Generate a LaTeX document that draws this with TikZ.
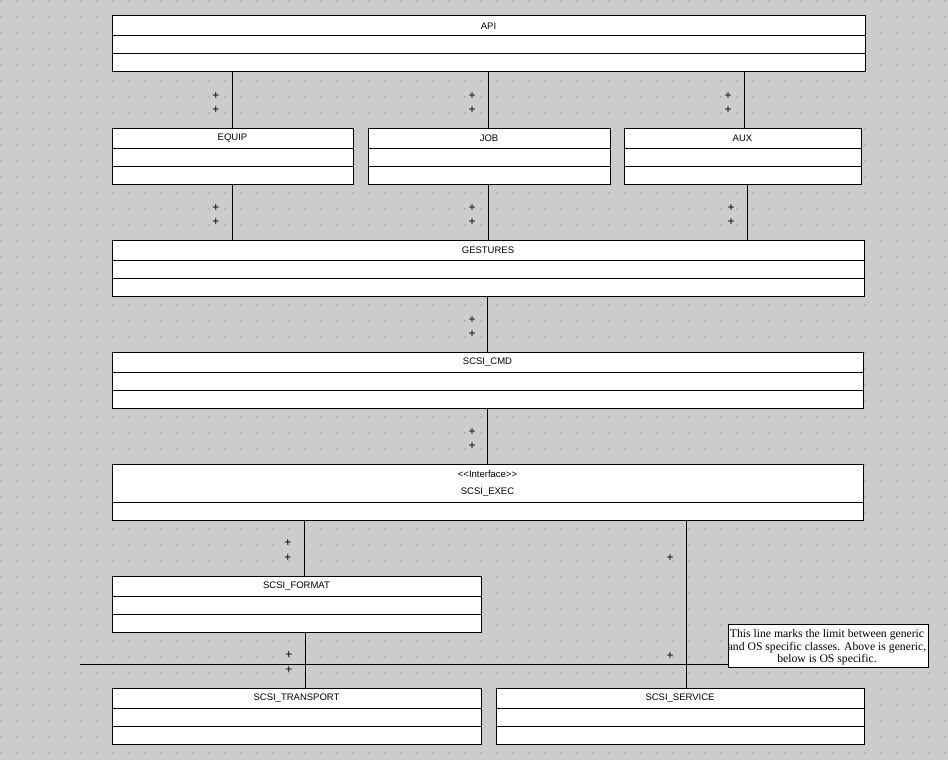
\documentclass[tikz,border=0pt]{standalone}
\usepackage{fontspec}
\setmainfont{Liberation Sans}
\newfontfamily\notefont{Liberation Serif}
\usetikzlibrary{calc}
\definecolor{canvas}{HTML}{CCCCCC}
\definecolor{griddot}{HTML}{B6B6B6}

% A class box: name, left x, right x, top y, label
\newcommand\umlclass[5]{%
  \node[classbox, minimum width={#3-#2}, anchor=north west] (#1) at (#2,#4) {};
  \draw[edge] ([yshift=-20pt]#1.north west) -- ([yshift=-20pt]#1.north east);
  \draw[edge] ([yshift=-38pt]#1.north west) -- ([yshift=-38pt]#1.north east);
  \node[classname] (#1-name) at ([yshift=-10pt]#1.north) {#5};
}
% An interface box: stereotype and name share the upper compartment
\newcommand\umliface[6]{%
  \node[classbox, minimum width={#3-#2}, anchor=north west] (#1) at (#2,#4) {};
  \draw[edge] ([yshift=-38pt]#1.north west) -- ([yshift=-38pt]#1.north east);
  \node[classname] (#1-stereo) at ([yshift=-10pt]#1.north) {#5};
  \node[classname] (#1-name) at ([yshift=-28pt]#1.north) {#6};
}

\begin{document}
\begin{tikzpicture}[x=1pt,y=-1pt,
  edge/.style={draw=black, line width=1pt},
  classbox/.style={draw=black, line width=1pt, fill=white, rectangle,
    inner sep=0pt, outer sep=0pt, minimum height=56pt},
  classname/.style={inner sep=0pt, font=\fontsize{9.5}{11}\selectfont},
  mult/.style={inner sep=0pt, font=\fontsize{12}{12}\selectfont},
  notebox/.style={draw=black, line width=1pt, fill=white, rectangle,
    inner sep=0pt, minimum width=200pt, minimum height=43pt},
  notetext/.style={inner sep=0pt, align=center,
    font=\notefont\fontsize{11.7}{12.5}\selectfont}]

% canvas and dotted grid
\fill[canvas] (0,0) rectangle (948,760);
\useasboundingbox (0,0) rectangle (948,760);
\foreach \i in {0,...,59}{
  \foreach \j in {0,...,47}{
    \fill[griddot] (16*\i+0.2,16*\j+0.2) rectangle ++(1.6,1.6);
  }
}

% classes
\umlclass{api}{112}{865}{16}{API}
\umlclass{equip}{112}{353}{128}{EQUIP}
\umlclass{job}{368}{610}{128}{JOB}
\umlclass{aux}{624}{861}{128}{AUX}
\umlclass{gestures}{112}{864}{240}{GESTURES}
\umlclass{cmd}{112}{863}{352}{SCSI\_CMD}
\umliface{exec}{112}{863}{464}{<\kern0pt<Interface>\kern0pt>}{SCSI\_EXEC}
\umlclass{format}{112}{481}{576}{SCSI\_FORMAT}
\umlclass{transport}{112}{481}{688}{SCSI\_TRANSPORT}
\umlclass{service}{496}{864}{688}{SCSI\_SERVICE}

% associations
\draw[edge] (equip.north |- api.south) -- (equip.north);
\draw[edge] ([xshift=-1pt]job.north |- api.south) -- ([xshift=-1pt]job.north);
\draw[edge] ([xshift=1.5pt]aux.north |- api.south) -- ([xshift=1.5pt]aux.north);
\draw[edge] (equip.south) -- (equip.south |- gestures.north);
\draw[edge] ([xshift=-1pt]job.south) -- ([xshift=-1pt]job.south |- gestures.north);
\draw[edge] ([xshift=4.5pt]aux.south) -- ([xshift=4.5pt]aux.south |- gestures.north);
\draw[edge] ([xshift=-0.5pt]gestures.south) -- ([xshift=-0.5pt]gestures.south |- cmd.north);
\draw[edge] (cmd.south) -- (cmd.south |- exec.north);
\draw[edge] ([xshift=8pt]format.north |- exec.south) -- ([xshift=8pt]format.north);
\draw[edge] ([xshift=6pt]service.north |- exec.south) -- ([xshift=6pt]service.north);
\draw[edge] ([xshift=8.5pt]format.south) -- ([xshift=8.5pt]transport.north);

% multiplicities
\node[mult] (m1) at (216,96) {+};
\node[mult] (m2) at (216,110) {+};
\node[mult] (m3) at (472,96) {+};
\node[mult] (m4) at (472,110) {+};
\node[mult] (m5) at (728,96) {+};
\node[mult] (m6) at (728,110) {+};
\node[mult] (m7) at (216,208) {+};
\node[mult] (m8) at (216,222) {+};
\node[mult] (m9) at (472,208) {+};
\node[mult] (m10) at (472,222) {+};
\node[mult] (m11) at (731,208) {+};
\node[mult] (m12) at (731,222) {+};
\node[mult] (m13) at (472,320) {+};
\node[mult] (m14) at (472,334) {+};
\node[mult] (m15) at (472,432) {+};
\node[mult] (m16) at (472,446) {+};
\node[mult] (m17) at (288,543) {+};
\node[mult] (m18) at (288,558) {+};
\node[mult] (m19) at (670,558) {+};
\node[mult] (m20) at (670,656) {+};
\node[mult] (m21) at (289,655) {+};
\node[mult] (m22) at (289,670) {+};

% generic / OS specific limit
\node[notebox] (note) at (828,645.5) {};
\node[notetext] (note-text) at (827,647.5) {This line marks the limit between generic\\and OS specific classes. Above is generic,\\below is OS specific.};
\coordinate (limitstart) at (80,664);
\draw[edge] (limitstart) -- (limitstart -| note.west);

\end{tikzpicture}
\end{document}
